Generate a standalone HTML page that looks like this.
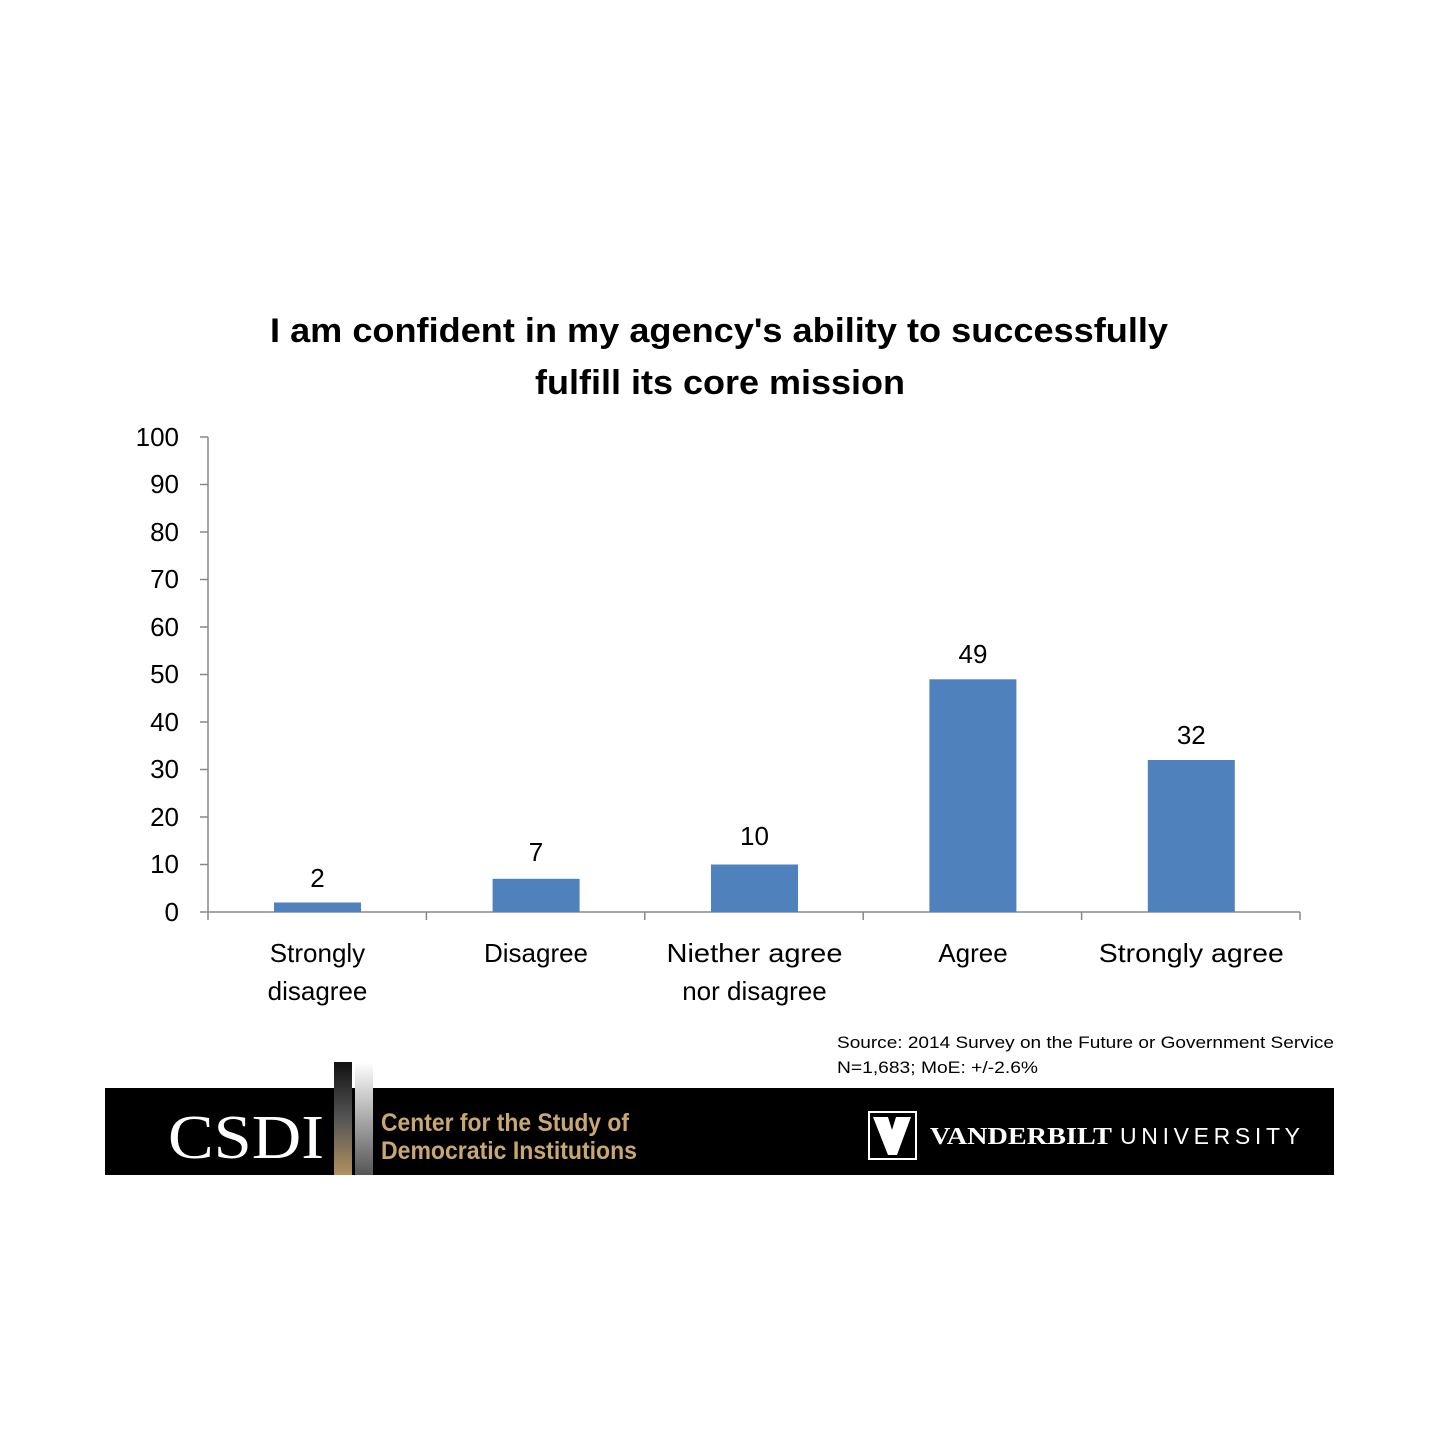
<!DOCTYPE html>
<html><head><meta charset="utf-8"><style>body{margin:0;background:#fff}</style></head>
<body>
<svg width="1440" height="1440" xmlns="http://www.w3.org/2000/svg" font-family="Liberation Sans, DejaVu Sans, sans-serif">
<defs>
<linearGradient id="g1" x1="0" y1="0" x2="0" y2="1"><stop offset="0" stop-color="#111"/><stop offset="0.5" stop-color="#555"/><stop offset="1" stop-color="#b09060"/></linearGradient>
<linearGradient id="g2" x1="0" y1="0" x2="0" y2="1"><stop offset="0" stop-color="#fff"/><stop offset="1" stop-color="#555"/></linearGradient>
</defs>
<text x="270" y="342" font-size="34" font-weight="bold" fill="#000" textLength="898" lengthAdjust="spacingAndGlyphs">I am confident in my agency's ability to successfully</text>
<text x="535" y="394" font-size="34" font-weight="bold" fill="#000" textLength="370" lengthAdjust="spacingAndGlyphs">fulfill its core mission</text>
<g stroke="#888" stroke-width="1.5">
<line x1="208" y1="437" x2="208" y2="912"/>
<line x1="200" y1="912" x2="1300" y2="912"/>
<line x1="200" y1="437" x2="208" y2="437"/><line x1="200" y1="484.5" x2="208" y2="484.5"/><line x1="200" y1="532" x2="208" y2="532"/><line x1="200" y1="579.5" x2="208" y2="579.5"/><line x1="200" y1="627" x2="208" y2="627"/><line x1="200" y1="674.5" x2="208" y2="674.5"/><line x1="200" y1="722" x2="208" y2="722"/><line x1="200" y1="769.5" x2="208" y2="769.5"/><line x1="200" y1="817" x2="208" y2="817"/><line x1="200" y1="864.5" x2="208" y2="864.5"/>
<line x1="208" y1="912" x2="208" y2="920"/><line x1="426.4" y1="912" x2="426.4" y2="920"/><line x1="644.8" y1="912" x2="644.8" y2="920"/><line x1="863.2" y1="912" x2="863.2" y2="920"/><line x1="1081.6" y1="912" x2="1081.6" y2="920"/><line x1="1300" y1="912" x2="1300" y2="920"/>
</g>
<g font-size="26" fill="#000" text-anchor="end">
<text x="179" y="446">100</text><text x="179" y="493">90</text><text x="179" y="541">80</text><text x="179" y="588">70</text><text x="179" y="636">60</text><text x="179" y="683">50</text><text x="179" y="731">40</text><text x="179" y="778">30</text><text x="179" y="826">20</text><text x="179" y="873">10</text><text x="179" y="921">0</text>
</g>
<g fill="#4f81bd">
<rect x="274" y="902.5" width="87" height="9.5"/>
<rect x="492.6" y="878.8" width="87" height="33.2"/>
<rect x="711" y="864.5" width="87" height="47.5"/>
<rect x="929.4" y="679.3" width="87" height="232.7"/>
<rect x="1147.8" y="760" width="87" height="152"/>
</g>
<g font-size="26" fill="#000" text-anchor="middle">
<text x="317.5" y="887">2</text><text x="536" y="861">7</text><text x="754.5" y="845">10</text><text x="973" y="663">49</text><text x="1191.3" y="744">32</text>
<text x="317.5" y="962">Strongly</text><text x="317.5" y="1000">disagree</text>
<text x="536" y="962">Disagree</text>
<text x="754.5" y="962" textLength="176" lengthAdjust="spacingAndGlyphs">Niether agree</text><text x="754.5" y="1000">nor disagree</text>
<text x="973" y="962">Agree</text>
<text x="1191.3" y="962" textLength="185" lengthAdjust="spacingAndGlyphs">Strongly agree</text>
</g>
<text x="837" y="1048" font-size="17" fill="#000" textLength="497" lengthAdjust="spacingAndGlyphs">Source: 2014 Survey on the Future or Government Service</text>
<text x="837" y="1073" font-size="17" fill="#000" textLength="201" lengthAdjust="spacingAndGlyphs">N=1,683; MoE: +/-2.6%</text>
<rect x="105" y="1088" width="1229" height="87" fill="#000"/>
<rect x="334" y="1062" width="18" height="113" fill="url(#g1)"/>
<rect x="355" y="1062" width="18" height="113" fill="url(#g2)"/>
<text x="168" y="1158" font-family="Liberation Serif, serif" font-size="62" fill="#fff" textLength="156" lengthAdjust="spacingAndGlyphs">CSDI</text>
<text x="381" y="1131" font-size="25" font-weight="bold" fill="#c8a870" textLength="248" lengthAdjust="spacingAndGlyphs">Center for the Study of</text>
<text x="381" y="1159" font-size="25" font-weight="bold" fill="#c8a870" textLength="256" lengthAdjust="spacingAndGlyphs">Democratic Institutions</text>
<rect x="869" y="1112" width="47" height="47" fill="none" stroke="#fff" stroke-width="2"/>
<path d="M873 1117 L888 1117 L892 1130 L896 1117 L911 1117 L897 1155 L888 1155 Z" fill="#fff"/>
<text x="930" y="1144" font-family="Liberation Serif, serif" font-weight="bold" font-size="24" fill="#fff" textLength="182" lengthAdjust="spacingAndGlyphs">VANDERBILT</text>
<text x="1120" y="1144" font-size="23" fill="#fff" textLength="180" lengthAdjust="spacing">UNIVERSITY</text>
</svg>
</body></html>
